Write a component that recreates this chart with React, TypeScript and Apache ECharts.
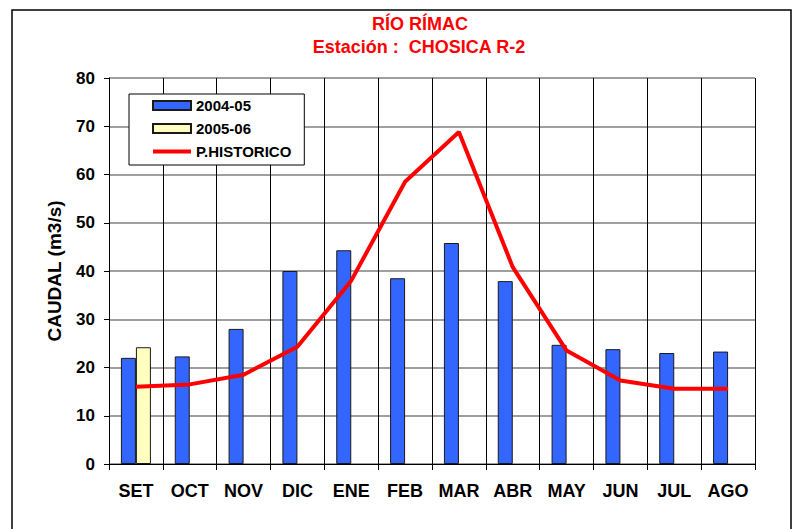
import React, { useEffect, useRef } from "react";
import * as echarts from "echarts";

const months = ["SET", "OCT", "NOV", "DIC", "ENE", "FEB", "MAR", "ABR", "MAY", "JUN", "JUL", "AGO"];
const serie2004 = [22.0, 22.3, 28.0, 40.0, 44.3, 38.5, 45.8, 37.9, 24.7, 23.8, 23.0, 23.3];
const serie2005 = [24.2, null, null, null, null, null, null, null, null, null, null, null];
const historico = [16.0, 16.5, 18.5, 24.3, 38.0, 58.5, 68.8, 40.8, 23.5, 17.3, 15.6, 15.6];

const FONT = "'Liberation Sans', Arial, sans-serif";

export default function App() {
  const ref = useRef<HTMLDivElement>(null);
  useEffect(() => {
    if (!ref.current) return;
    const chart = echarts.init(ref.current, undefined, { renderer: "svg" });
    chart.setOption({
      animation: false,
      backgroundColor: "#ffffff",
      textStyle: { fontFamily: FONT },
      title: [
        {
          text: "RÍO RÍMAC",
          left: 415,
          top: 10,
          textAlign: "center",
          textStyle: { color: "#ff0000", fontSize: 18, fontWeight: "bold", fontFamily: FONT },
        },
        {
          text: "Estación :  CHOSICA R-2",
          left: 414,
          top: 33,
          textAlign: "center",
          textStyle: { color: "#ff0000", fontSize: 18, fontWeight: "bold", fontFamily: FONT },
        },
      ],
      graphic: [
        {
          type: "rect",
          shape: { x: 12, y: 10, width: 779, height: 530 },
          style: { fill: "none", stroke: "#000", lineWidth: 1.5 },
          silent: true,
          z: 0,
        },
      ],
      legend: {
        orient: "vertical",
        left: 129,
        top: 94,
        padding: [4, 13, 6, 23],
        itemGap: 8,
        itemWidth: 38,
        itemHeight: 9,
        backgroundColor: "#ffffff",
        borderColor: "#000000",
        borderWidth: 1,
        textStyle: { fontSize: 15, lineHeight: 15, fontWeight: "bold", color: "#000", fontFamily: FONT },
        data: [
          { name: "2004-05", icon: "rect" },
          { name: "2005-06", icon: "rect" },
          {
            name: "P.HISTORICO",
            icon: "path://M0,0L0,0M0,2.5L38,2.5L38,6.5L0,6.5ZM38,9L38,9",
            itemStyle: { color: "#ff0000", borderWidth: 0 },
          },
        ],
        z: 10,
      },
      grid: { left: 109, right: 39, top: 78, bottom: 65, containLabel: false },
      xAxis: {
        type: "category",
        data: months,
        boundaryGap: true,
        axisLine: { show: true, lineStyle: { color: "#000", width: 1 } },
        axisTick: { show: true, length: 6, alignWithLabel: false, lineStyle: { color: "#000" } },
        axisLabel: { fontSize: 18, fontWeight: "bold", color: "#000", margin: 18, fontFamily: FONT, interval: 0 },
        splitLine: { show: true, interval: 0, lineStyle: { color: "#000", width: 1 } },
      },
      yAxis: {
        type: "value",
        min: 0,
        max: 80,
        interval: 10,
        name: "CAUDAL (m3/s)",
        nameLocation: "middle",
        nameGap: 45,
        nameRotate: 90,
        nameTextStyle: { fontSize: 19, fontWeight: "bold", color: "#000", fontFamily: FONT },
        axisLine: { show: true, lineStyle: { color: "#000", width: 1 } },
        axisTick: { show: true, length: 5, lineStyle: { color: "#000" } },
        axisLabel: { fontSize: 17, fontWeight: "bold", color: "#000", margin: 14, fontFamily: FONT },
        splitLine: { show: true, lineStyle: { color: "#7f7f7f", width: 1.5 } },
      },
      series: [
        {
          name: "2004-05",
          type: "bar",
          data: serie2004,
          barWidth: 15,
          barGap: "0%",
          itemStyle: { color: "#3366ff", borderColor: "#1a1a1a", borderWidth: 1 },
          z: 3,
        },
        {
          name: "2005-06",
          type: "bar",
          data: serie2005,
          barWidth: 15,
          barGap: "0%",
          itemStyle: { color: "#ffffc0", borderColor: "#1a1a1a", borderWidth: 1 },
          z: 3,
        },
        {
          name: "P.HISTORICO",
          type: "line",
          data: historico,
          symbol: "none",
          showSymbol: false,
          lineStyle: { color: "#ff0000", width: 4 },
          itemStyle: { color: "#ff0000" },
          z: 5,
        },
      ],
    });
    return () => chart.dispose();
  }, []);
  return (
    <div
      ref={ref}
      style={{ position: "absolute", left: 0, top: 0, width: 794, height: 529 }}
    />
  );
}
